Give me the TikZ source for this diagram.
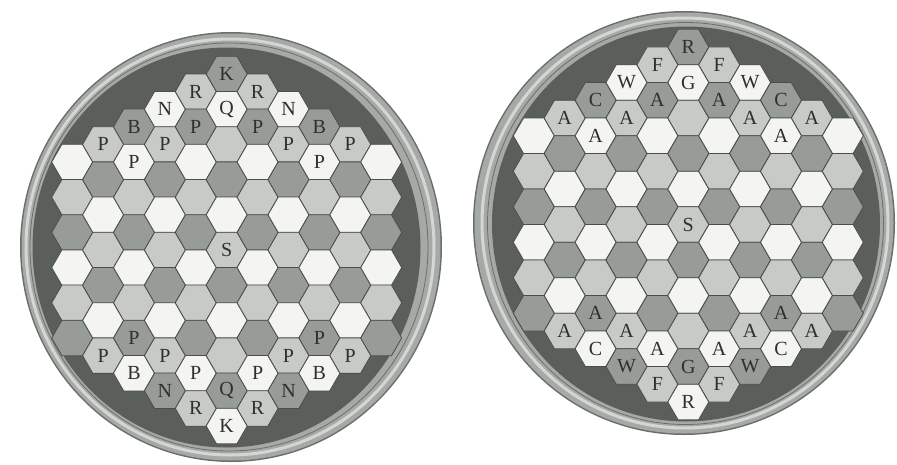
\documentclass[tikz,border=0pt]{standalone}
\usepackage{fontspec}
\setmainfont{Liberation Serif}
\usetikzlibrary{shapes.geometric}
\definecolor{bgdark}{HTML}{5A5F5B}
\definecolor{rim}{HTML}{A6AAA6}
\definecolor{rimhi}{HTML}{D4D6D4}
\definecolor{rimline}{HTML}{6A6F6B}
\definecolor{hexW}{HTML}{F4F4F2}
\definecolor{hexL}{HTML}{C8CAC7}
\definecolor{hexD}{HTML}{989C98}
\definecolor{hexline}{HTML}{4A4F4B}
\definecolor{ink}{HTML}{2E302E}
\begin{document}
\begin{tikzpicture}[x=1pt,y=-1pt,
  cell/.style={regular polygon, regular polygon sides=6, minimum size=41pt, inner sep=0pt, draw=hexline, line width=0.8pt},
  piece/.style={text=ink, font=\fontsize{20}{20}\selectfont, inner sep=0pt}]
\useasboundingbox (0,0) rectangle (897,464);
\fill[white] (0,0) rectangle (897,464);
% left disc
\fill[rimline] (231,247) ellipse [x radius=211, y radius=215];
\fill[rim] (231,247) ellipse [x radius=209.5, y radius=213.5];
\draw[rimhi, line width=3pt] (230,247) ellipse [x radius=204, y radius=208];
\draw[rimline, line width=0.8pt] (229,247) ellipse [x radius=199, y radius=204];
\fill[bgdark] (226.5,247.5) ellipse [x radius=194, y radius=200];
% right disc
\fill[rimline] (684,223) ellipse [x radius=211, y radius=212];
\fill[rim] (684,223) ellipse [x radius=209.5, y radius=210.5];
\draw[rimhi, line width=3pt] (685,223) ellipse [x radius=203, y radius=205];
\draw[rimline, line width=0.8pt] (685.5,223.5) ellipse [x radius=198, y radius=201];
\fill[bgdark] (686,224) ellipse [x radius=194, y radius=197.5];
% cells
\foreach \b/\cx/\cy/\dx/\dy in {L/226.7/250/30.9/17.6, R/688.3/224.5/30.9/17.75}{
  \foreach \c in {-5,...,5}{
    \pgfmathtruncatemacro\m{10-abs(\c)}
    \foreach \k in {0,...,\m}{
      \pgfmathtruncatemacro\s{2*\k-\m}
      \pgfmathtruncatemacro\v{mod((\s+3*\c)/2+30,3)}
      \edef\col{\ifcase\v hexL\or hexD\else hexW\fi}
      \node[cell, fill=\col] (\b\c_\s) at ({\cx+\c*\dx},{\cy+\s*\dy}) {};
    }
  }
}
% pieces
\foreach \sg in {-1,1}{
  \foreach \c/\s/\t in {0/10/K, -1/9/R, 1/9/R, 0/8/Q, -2/8/N, 2/8/N, -3/7/B, 3/7/B, -1/7/P, 1/7/P, -2/6/P, 2/6/P, -4/6/P, 4/6/P, -3/5/P, 3/5/P}{
    \pgfmathtruncatemacro\ss{\sg*\s}
    \node[piece] (Lp\c_\ss) at (L\c_\ss.center) {\t};
  }
  \foreach \c/\s/\t in {0/10/R, -1/9/F, 1/9/F, 0/8/G, -2/8/W, 2/8/W, -3/7/C, 3/7/C, -1/7/A, 1/7/A, -2/6/A, 2/6/A, -4/6/A, 4/6/A, -3/5/A, 3/5/A}{
    \pgfmathtruncatemacro\ss{\sg*\s}
    \node[piece] (Rp\c_\ss) at (R\c_\ss.center) {\t};
  }
}
\node[piece] (LS) at (L0_0.center) {S};
\node[piece] (RS) at (R0_0.center) {S};
\end{tikzpicture}
\end{document}
